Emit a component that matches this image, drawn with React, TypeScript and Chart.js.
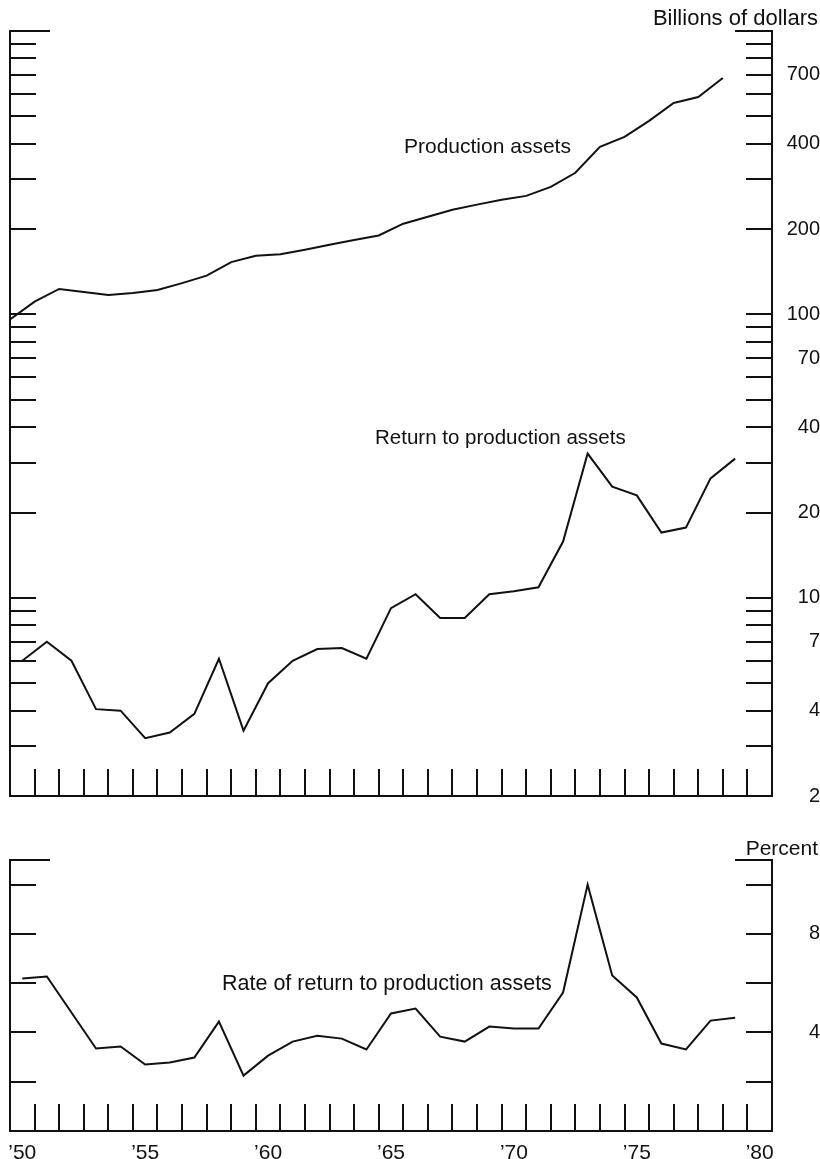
import React, { useEffect, useRef } from "react";
import { Chart, registerables } from "chart.js";

Chart.register(...registerables);

// ---------- data ----------
const YEARS = [
  1950, 1951, 1952, 1953, 1954, 1955, 1956, 1957, 1958, 1959,
  1960, 1961, 1962, 1963, 1964, 1965, 1966, 1967, 1968, 1969,
  1970, 1971, 1972, 1973, 1974, 1975, 1976, 1977, 1978, 1979,
];

// Billions of dollars (stock, plotted at the start of each year)
const PRODUCTION_ASSETS = [
  96, 111, 123, 120, 117, 119, 122, 129, 137, 153,
  161, 163, 169, 176, 183, 190, 209, 221, 234, 244,
  254, 262, 282, 316, 390, 423, 482, 557, 585, 683,
];

// Billions of dollars (flow, plotted mid-year)
const RETURN_TO_ASSETS = [
  6.0, 7.0, 6.0, 4.05, 4.0, 3.2, 3.35, 3.9, 6.1, 3.4,
  5.0, 6.0, 6.6, 6.65, 6.1, 9.2, 10.3, 8.5, 8.5, 10.3,
  10.55, 10.9, 15.8, 32.3, 24.7, 23.0, 17.0, 17.7, 26.4, 31.0,
];

// Percent (plotted mid-year)
const RATE_OF_RETURN = [
  6.19, 6.27, 4.81, 3.35, 3.43, 2.7, 2.78, 2.98, 4.44, 2.25,
  3.06, 3.63, 3.87, 3.75, 3.31, 4.77, 4.97, 3.83, 3.63, 4.24,
  4.16, 4.16, 5.62, 10.0, 6.31, 5.42, 3.55, 3.31, 4.48, 4.6,
];

const X_MIN = 1950;
const X_MAX = 1981;

const LOG_TICKS = [
  2, 3, 4, 5, 6, 7, 8, 9, 10, 20, 30, 40, 50, 60, 70, 80, 90,
  100, 200, 300, 400, 500, 600, 700, 800, 900, 1000,
];
const LOG_LABELS = [2, 4, 7, 10, 20, 40, 70, 100, 200, 400, 700];

const PCT_TICKS = [0, 2, 4, 6, 8, 10, 11];
const PCT_LABELS = [4, 8];

const YEAR_LABEL_YEARS = [1950, 1955, 1960, 1965, 1970, 1975, 1980];
const YEAR_LABELS = ["’50", "’55", "’60", "’65", "’70", "’75", "’80"];

const FONT = "'Liberation Sans', Arial, Helvetica, sans-serif";
const INK = "#111";

type TextItem = { text: string; x: number; y: number; size: number; align: CanvasTextAlign };

function framePlugin(id: string, tickValues: number[], texts: TextItem[]) {
  return {
    id,
    afterDatasetsDraw(chart: any) {
      const { ctx, chartArea: a, scales } = chart;
      const xs = scales.x;
      const ys = scales.y;
      ctx.save();
      ctx.strokeStyle = INK;
      ctx.lineWidth = 2;
      ctx.lineCap = "butt";
      ctx.lineJoin = "miter";
      // frame: left, bottom, right + top stubs
      ctx.beginPath();
      ctx.moveTo(a.left + 40, a.top);
      ctx.lineTo(a.left, a.top);
      ctx.lineTo(a.left, a.bottom);
      ctx.lineTo(a.right, a.bottom);
      ctx.lineTo(a.right, a.top);
      ctx.lineTo(a.right - 37, a.top);
      ctx.stroke();
      // y tick marks, inside on both sides
      ctx.beginPath();
      for (const v of tickValues) {
        const y = Math.round(ys.getPixelForValue(v));
        if (y <= a.top + 1 || y >= a.bottom - 1) continue;
        ctx.moveTo(a.left, y);
        ctx.lineTo(a.left + 26, y);
        ctx.moveTo(a.right - 26, y);
        ctx.lineTo(a.right, y);
      }
      // x tick marks at year boundaries, rising from the bottom
      for (let yr = X_MIN + 1; yr < X_MAX; yr++) {
        const x = Math.round(xs.getPixelForValue(yr));
        ctx.moveTo(x, a.bottom);
        ctx.lineTo(x, a.bottom - 27);
      }
      ctx.stroke();
      ctx.restore();
    },
    afterDraw(chart: any) {
      const { ctx } = chart;
      ctx.save();
      ctx.fillStyle = INK;
      ctx.textBaseline = "alphabetic";
      for (const t of texts) {
        ctx.font = `${t.size}px ${FONT}`;
        ctx.textAlign = t.align;
        ctx.fillText(t.text, t.x, t.y);
      }
      ctx.restore();
    },
  };
}

export default function App() {
  const topRef = useRef<HTMLCanvasElement | null>(null);
  const botRef = useRef<HTMLCanvasElement | null>(null);

  useEffect(() => {
    if (!topRef.current || !botRef.current) return;

    const lineStyle = {
      borderColor: INK,
      borderWidth: 2,
      pointRadius: 0,
      tension: 0,
      fill: false,
    };

    const top = new Chart(topRef.current, {
      type: "line",
      data: {
        datasets: [
          {
            label: "Production assets",
            data: YEARS.map((yr, i) => ({ x: yr, y: PRODUCTION_ASSETS[i] })),
            ...lineStyle,
          },
          {
            label: "Return to production assets",
            data: YEARS.map((yr, i) => ({ x: yr + 0.5, y: RETURN_TO_ASSETS[i] })),
            ...lineStyle,
          },
        ],
      },
      options: {
        responsive: false,
        animation: false,
        events: [],
        layout: { padding: { left: 10, top: 31, right: 0, bottom: 23 } },
        plugins: { legend: { display: false }, tooltip: { enabled: false } },
        scales: {
          x: { type: "linear", min: X_MIN, max: X_MAX, display: false },
          y: {
            type: "logarithmic",
            position: "right",
            min: 2,
            max: 1000,
            afterBuildTicks: (s: any) => {
              s.ticks = LOG_TICKS.map((v) => ({ value: v }));
            },
            afterFit: (s: any) => {
              s.width = 48;
            },
            grid: { display: false },
            border: { display: false },
            ticks: {
              autoSkip: false,
              crossAlign: "far",
              padding: 12,
              color: INK,
              font: { family: FONT, size: 20 },
              callback: (v: any) => (LOG_LABELS.includes(Number(v)) ? String(v) : ""),
            },
          },
        },
      },
      plugins: [
        framePlugin("frameTop", LOG_TICKS, [
          { text: "Billions of dollars", x: 818, y: 25, size: 22, align: "right" },
          { text: "Production assets", x: 404, y: 153, size: 21, align: "left" },
          { text: "Return to production assets", x: 375, y: 444, size: 20.5, align: "left" },
        ]),
      ],
    } as any);

    const bottom = new Chart(botRef.current, {
      type: "line",
      data: {
        datasets: [
          {
            label: "Rate of return to production assets",
            data: YEARS.map((yr, i) => ({ x: yr + 0.5, y: RATE_OF_RETURN[i] })),
            ...lineStyle,
          },
        ],
      },
      options: {
        responsive: false,
        animation: false,
        events: [],
        layout: { padding: { left: 10, top: 40, right: 0, bottom: 0 } },
        plugins: { legend: { display: false }, tooltip: { enabled: false } },
        scales: {
          x: {
            type: "linear",
            position: "bottom",
            min: X_MIN,
            max: X_MAX,
            afterBuildTicks: (s: any) => {
              s.ticks = YEAR_LABEL_YEARS.map((yr) => ({ value: yr + 0.5 }));
            },
            afterFit: (s: any) => {
              s.height = 28;
            },
            grid: { display: false },
            border: { display: false },
            ticks: {
              autoSkip: false,
              maxRotation: 0,
              minRotation: 0,
              padding: 2,
              color: INK,
              font: { family: FONT, size: 21 },
              callback: (_v: any, i: number) => YEAR_LABELS[i] ?? "",
            },
          },
          y: {
            type: "linear",
            position: "right",
            min: 0,
            max: 11,
            afterBuildTicks: (s: any) => {
              s.ticks = PCT_TICKS.map((v) => ({ value: v }));
            },
            afterFit: (s: any) => {
              s.width = 48;
            },
            grid: { display: false },
            border: { display: false },
            ticks: {
              autoSkip: false,
              crossAlign: "far",
              padding: 12,
              color: INK,
              font: { family: FONT, size: 20 },
              callback: (v: any) => (PCT_LABELS.includes(Number(v)) ? String(v) : ""),
            },
          },
        },
      },
      plugins: [
        framePlugin("frameBottom", PCT_TICKS, [
          { text: "Percent", x: 818, y: 35, size: 21, align: "right" },
          { text: "Rate of return to production assets", x: 222, y: 170, size: 21.5, align: "left" },
        ]),
      ],
    } as any);

    return () => {
      top.destroy();
      bottom.destroy();
    };
  }, []);

  return (
    <div style={{ position: "absolute", left: 0, top: 0, width: 820, height: 1159, background: "#fff" }}>
      <canvas
        ref={topRef}
        width={820}
        height={820}
        style={{ position: "absolute", left: 0, top: 0, width: 820, height: 820, display: "block" }}
      />
      <canvas
        ref={botRef}
        width={820}
        height={339}
        style={{ position: "absolute", left: 0, top: 820, width: 820, height: 339, display: "block" }}
      />
    </div>
  );
}
